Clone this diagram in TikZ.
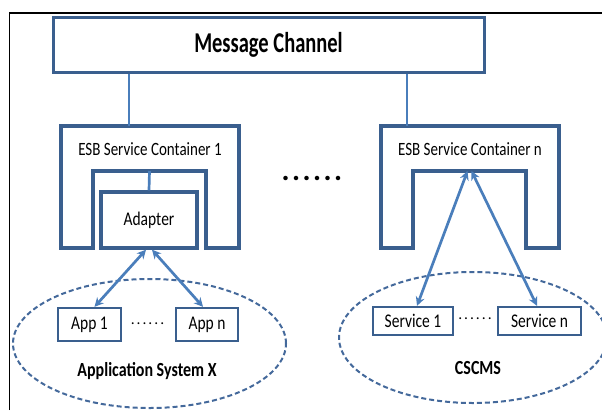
\documentclass[tikz,border=0pt]{standalone}
\usepackage{fontspec}
\setmainfont{Carlito}
\usepackage{graphicx}
\usetikzlibrary{arrows.meta,positioning,shapes.geometric}
\definecolor{ink}{HTML}{000000}
\definecolor{boxblue}{HTML}{3A5F8E}
\definecolor{linkblue}{HTML}{4A7EBB}
\definecolor{groupblue}{HTML}{44699B}
\newcommand\tall[1]{\scalebox{1}[1.25]{#1}}
\newcommand\dotrow[1]{.\kern#1.\kern#1.\kern#1.\kern#1.\kern#1.}

\begin{document}
\begin{tikzpicture}[x=1pt,y=-1pt,
    box/.style={draw=boxblue,line width=2.3pt,fill=white,inner sep=0pt,text=ink,font=\fontsize{15.5}{17}\selectfont},
    holder/.style={draw=boxblue,line width=3.4pt,fill=white,line join=miter},
    link/.style={draw=linkblue,line width=2.7pt},
    dual/.style={link,{Stealth[length=9pt,width=9pt]}-{Stealth[length=9pt,width=9pt]}},
    group/.style={ellipse,draw=groupblue,line width=2pt,dash pattern=on 5pt off 3pt,inner sep=0pt},
    title/.style={font=\fontsize{16}{18}\selectfont\bfseries,text=ink}]
  \useasboundingbox (0,0) rectangle (602,410);
  % page frame
  \draw[line width=1.6pt] (9.5,410) -- (9.5,13) -- (602,13);

  % systems at the bottom
  \node[group,minimum width=273pt,minimum height=129pt] (sysx) at (149.5,343.5) {};
  \node[group,minimum width=268pt,minimum height=131pt] (cscms) at (473,337.5) {};
  \node[title] (sysxlab) at (147,371) {\tall{Application System X}};
  \node[title] (cscmslab) at (478,368) {\tall{CSCMS}};

  % bus
  \node[box,line width=3pt,minimum width=431pt,minimum height=55pt,
        font=\fontsize{20.5}{22}\selectfont\bfseries] (msg) at (268.5,44.5)
    {\scalebox{1}[1.4]{Message Channel}};

  % service containers
  \foreach \x in {61,381}
    \draw[holder] (\x,126) -- ++(178,0) -- ++(0,122) -- ++(-33,0) -- ++(0,-77)
      -- ++(-113,0) -- ++(0,77) -- ++(-32,0) -- cycle;
  \coordinate (c1in) at (129,126);
  \coordinate (cnin) at (407,126);
  \coordinate (c1notch) at (149.5,171);
  \coordinate (cnnotch) at (469.5,171);
  \node[box,draw=none,fill=none,font=\fontsize{15}{17}\selectfont] (c1lab) at (150,149)
    {\tall{ESB Service Container 1}};
  \node[box,draw=none,fill=none,font=\fontsize{15}{17}\selectfont] (cnlab) at (470,149)
    {\tall{ESB Service Container n}};
  \node[box,line width=3.4pt,minimum width=96pt,minimum height=56pt] (adp) at (149,220)
    {\tall{Adapter}};
  \node[font=\fontsize{30}{32}\selectfont\bfseries] (gap) at (312,178) {\dotrow{2.5pt}};

  % applications and services
  \node[box,minimum width=63pt,minimum height=33pt] (app1) at (89.5,324.5) {\tall{App 1}};
  \node[box,minimum width=62pt,minimum height=33pt] (appn) at (207,324.5) {\tall{App n}};
  \node[font=\fontsize{15.5}{17}\selectfont] (appdots) at (147.5,324) {\dotrow{2pt}};
  \node[box,minimum width=80pt,minimum height=28pt] (svc1) at (413,321) {\tall{Service 1}};
  \node[box,minimum width=83pt,minimum height=28pt] (svcn) at (539.5,321) {\tall{Service n}};
  \node[font=\fontsize{15.5}{17}\selectfont] (svcdots) at (475,319) {\dotrow{2pt}};

  % connectors
  \draw[link] (msg.south -| c1in) -- (c1in);
  \draw[link] (msg.south -| cnin) -- (cnin);
  \draw[link] (c1notch) -- (adp.north);
  \draw[dual] ([xshift=-3pt]adp.south) -- ([xshift=5pt]app1.north);
  \draw[dual] ([xshift=3pt]adp.south) -- ([xshift=-4pt]appn.north);
  \draw[dual] ([xshift=-2pt]cnnotch) -- ([xshift=4pt]svc1.north);
  \draw[dual] ([xshift=2pt]cnnotch) -- ([xshift=-2.5pt]svcn.north);
\end{tikzpicture}
\end{document}
